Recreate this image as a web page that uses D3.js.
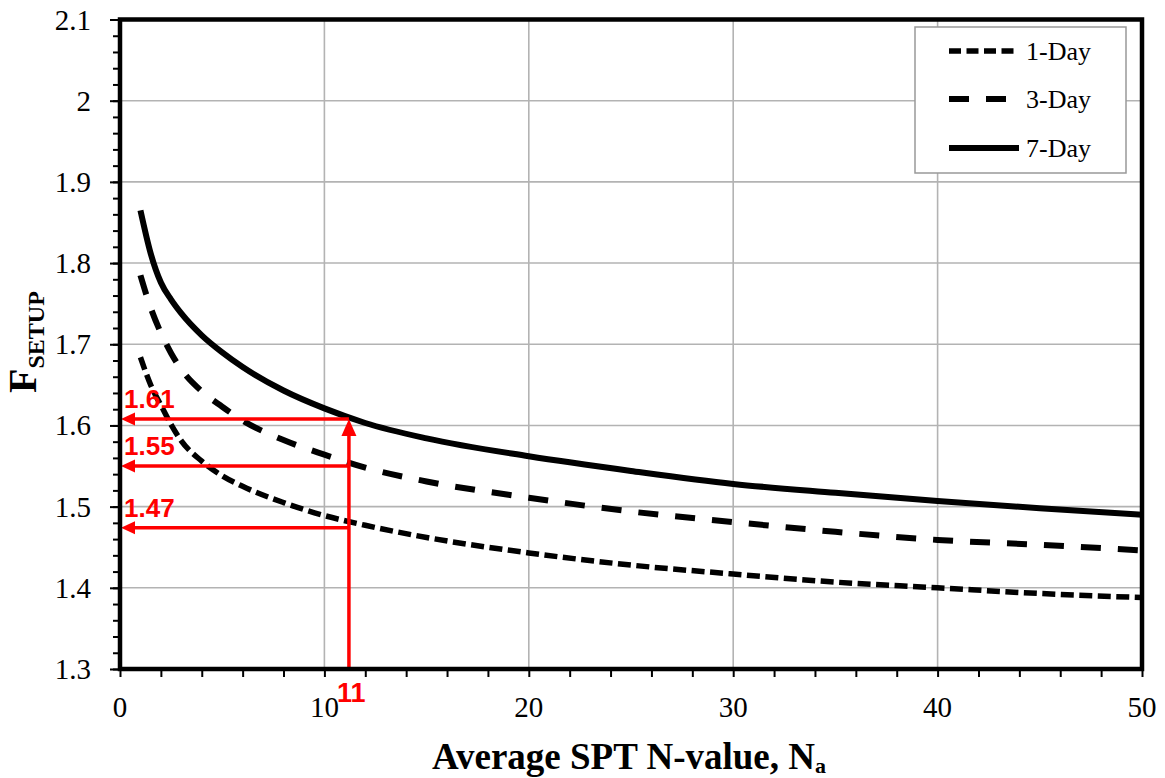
<!DOCTYPE html>
<html><head><meta charset="utf-8">
<script src="https://cdn.jsdelivr.net/npm/d3@7"></script>
<style>
html,body{margin:0;padding:0;background:#fff;}
svg{display:block;}
</style></head>
<body>
<svg id="chart" width="1165" height="778"></svg>
<script>
// ---- data ----
const nValues = [1, 1.5, 2, 2.5, 3, 4, 5, 6, 8, 10, 12, 15, 20, 25, 30, 35, 40, 45, 50];
const day1 = [1.684, 1.650, 1.625, 1.601, 1.581, 1.556, 1.538, 1.525, 1.505, 1.489, 1.477, 1.462, 1.443, 1.428, 1.417, 1.407, 1.400, 1.393, 1.388];
const day3 = [1.785, 1.745, 1.714, 1.689, 1.669, 1.642, 1.623, 1.606, 1.582, 1.564, 1.548, 1.531, 1.511, 1.494, 1.481, 1.469, 1.459, 1.453, 1.446];
const day7 = [1.865, 1.812, 1.776, 1.755, 1.738, 1.711, 1.690, 1.672, 1.643, 1.621, 1.603, 1.584, 1.562, 1.544, 1.528, 1.517, 1.507, 1.498, 1.490];
const seriesNames = ["1-Day", "3-Day", "7-Day"];
const xTicks = [0, 10, 20, 30, 40, 50];
const yTicks = [1.3, 1.4, 1.5, 1.6, 1.7, 1.8, 1.9, 2, 2.1];
const markN = 11.2;
const markLabel = "11";
const markValues = [1.608, 1.550, 1.474];
const markLabels = ["1.61", "1.55", "1.47"];

// ---- layout ----
const svg = d3.select("#chart");
const L = 120, R = 1142, T = 19.5, B = 669;
const x = d3.scaleLinear().domain([0, 50]).range([L, R]);
const y = d3.scaleLinear().domain([1.3, 2.1]).range([B, T]);
const serif = "'Liberation Serif', 'Times New Roman', serif";
const sans = "'Liberation Sans', Arial, sans-serif";

// gridlines
const grid = svg.append("g").attr("stroke", "#b3b3b3").attr("stroke-width", 1.6);
xTicks.slice(1, -1).forEach(v => grid.append("line").attr("x1", x(v)).attr("x2", x(v)).attr("y1", T).attr("y2", B));
yTicks.slice(1, -1).forEach(v => grid.append("line").attr("x1", L).attr("x2", R).attr("y1", y(v)).attr("y2", y(v)));

// axes with minor ticks
const xMinor = d3.range(0, 50.001, 2);
const yMinor = d3.range(1.3, 2.1001, 0.02);
const xAxisG = svg.append("g").attr("transform", `translate(0,${B})`)
  .call(d3.axisBottom(x).tickValues(xMinor).tickSize(8).tickFormat(""));
xAxisG.select(".domain").remove();
xAxisG.selectAll("line").attr("stroke", "#000").attr("stroke-width", 2);
const yAxisMinor = svg.append("g").attr("transform", `translate(${L},0)`)
  .call(d3.axisLeft(y).tickValues(yMinor).tickSize(7).tickFormat(""));
yAxisMinor.select(".domain").remove();
yAxisMinor.selectAll("line").attr("stroke", "#000").attr("stroke-width", 2);
const yAxisMajor = svg.append("g").attr("transform", `translate(${L},0)`)
  .call(d3.axisLeft(y).tickValues(yTicks).tickSize(10).tickFormat(""));
yAxisMajor.select(".domain").remove();
yAxisMajor.selectAll("line").attr("stroke", "#000").attr("stroke-width", 2);

// tick labels
svg.append("g").selectAll("text").data(xTicks).join("text")
  .attr("x", d => x(d)).attr("y", 717).attr("text-anchor", "middle")
  .attr("font-family", serif).attr("font-size", 29).attr("fill", "#000")
  .text(d => d);
svg.append("g").selectAll("text").data(yTicks).join("text")
  .attr("x", 91).attr("y", d => y(d) + 10).attr("text-anchor", "end")
  .attr("font-family", serif).attr("font-size", 29).attr("fill", "#000")
  .text(d => d3.format("")(+d.toFixed(1)));

// curves
const line = d3.line().x(d => x(d[0])).y(d => y(d[1])).curve(d3.curveMonotoneX);
const seriesData = [day1, day3, day7];
const dashes = ["13,5.5", "20,17", null];
const widths = [5.5, 6, 6];
seriesData.forEach((vals, i) => {
  svg.append("path").datum(nValues.map((n, j) => [n, vals[j]]))
    .attr("d", line).attr("fill", "none").attr("stroke", "#000")
    .attr("stroke-width", widths[i])
    .attr("stroke-dasharray", dashes[i]);
});

// red annotations
const red = "#ff0000";
const ann = svg.append("g");
const xm = x(markN);
ann.append("line").attr("x1", xm).attr("x2", xm).attr("y1", B - 2).attr("y2", y(markValues[0]) + 14)
  .attr("stroke", red).attr("stroke-width", 3.5);
ann.append("path").attr("d", `M${xm},${y(markValues[0])} L${xm - 7.5},${y(markValues[0]) + 17} L${xm + 7.5},${y(markValues[0]) + 17} Z`).attr("fill", red);
markValues.forEach((v, i) => {
  const yy = y(v);
  ann.append("line").attr("x1", xm).attr("x2", x(0) + 12).attr("y1", yy).attr("y2", yy)
    .attr("stroke", red).attr("stroke-width", 3.5);
  ann.append("path").attr("d", `M${x(0) + 1},${yy} L${x(0) + 15},${yy - 6.5} L${x(0) + 15},${yy + 6.5} Z`).attr("fill", red);
  ann.append("text").attr("x", x(0) + 4).attr("y", yy - 11)
    .attr("font-family", sans).attr("font-weight", "bold").attr("font-size", 26).attr("fill", red)
    .text(markLabels[i]);
});
ann.append("text").attr("x", xm - 12).attr("y", 702)
  .attr("font-family", sans).attr("font-weight", "bold").attr("font-size", 27).attr("fill", red)
  .text(markLabel);

// frame
svg.append("rect").attr("x", L).attr("y", T).attr("width", R - L).attr("height", B - T)
  .attr("fill", "none").attr("stroke", "#000").attr("stroke-width", 4.5);

// legend
const lg = svg.append("g");
lg.append("rect").attr("x", 915).attr("y", 27).attr("width", 211).attr("height", 146)
  .attr("fill", "#fff").attr("stroke", "#999").attr("stroke-width", 1.5);
const legY = [51, 99, 148];
seriesNames.forEach((name, i) => {
  lg.append("line").attr("x1", 949).attr("x2", 1019).attr("y1", legY[i]).attr("y2", legY[i])
    .attr("stroke", "#000").attr("stroke-width", widths[i])
    .attr("stroke-dasharray", i === 0 ? "12,5.5" : i === 1 ? "20,17" : null);
  lg.append("text").attr("x", 1026).attr("y", legY[i] + 9)
    .attr("font-family", serif).attr("font-size", 26).attr("fill", "#000").text(name);
});

// axis titles
const xt = svg.append("text").attr("x", 432).attr("y", 769)
  .attr("font-family", serif).attr("font-weight", "bold").attr("font-size", 37).attr("fill", "#000");
xt.append("tspan").text("Average SPT N-value, N");
xt.append("tspan").attr("font-size", 22).attr("dy", 4).text("a");

const yt = svg.append("text").attr("transform", "translate(36,393) rotate(-90)")
  .attr("font-family", serif).attr("font-weight", "bold").attr("font-size", 40).attr("fill", "#000");
yt.append("tspan").text("F");
yt.append("tspan").attr("font-size", 24).attr("dy", 8).text("SETUP");
</script>
</body></html>
